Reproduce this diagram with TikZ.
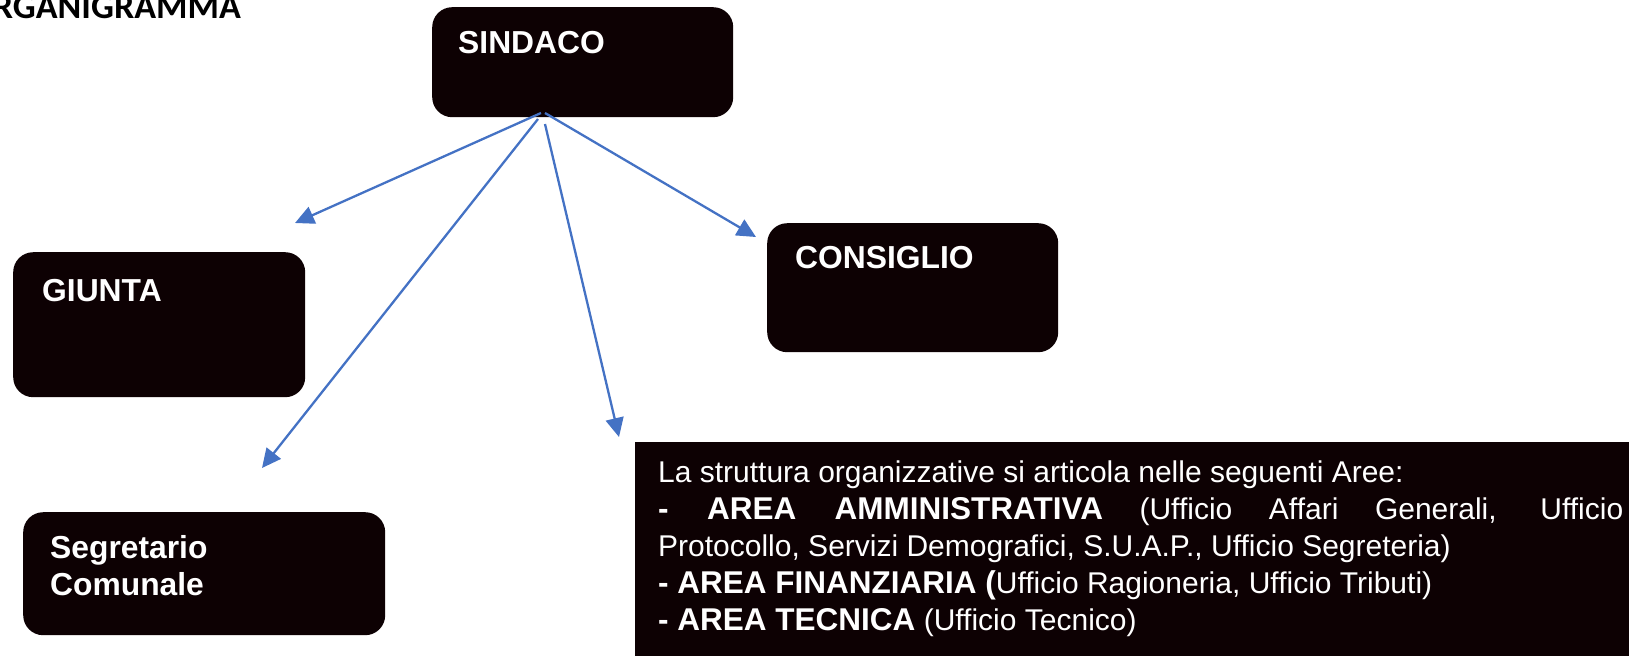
\documentclass[tikz,border=0pt]{standalone}
\usepackage{fontspec}
\setmainfont{Liberation Sans}
\newfontfamily\titlefont{Carlito}
\usetikzlibrary{arrows.meta}
\definecolor{boxfill}{RGB}{13,1,3}
\definecolor{arrowblue}{RGB}{68,114,196}
\newcommand\boldpart[1]{{\fontsize{31.5}{37}\selectfont\bfseries #1}}
\tikzset{
  orgbox/.style={fill=boxfill, draw=none, rounded corners=20pt, inner sep=0pt, anchor=north west},
  boxlabel/.style={text=white, font=\bfseries\fontsize{31.8}{37}\selectfont, inner sep=0pt, anchor=base west},
  link/.style={draw=arrowblue, line width=2.3pt, -{Triangle[length=19pt,width=18pt]}}
}
\begin{document}
\begin{tikzpicture}[x=1pt,y=-1pt]
\useasboundingbox (0,0) rectangle (1629,656);
% title
\node[inner sep=0pt, anchor=base east, font=\titlefont\bfseries\fontsize{36}{40}\selectfont] (title) at (241,18) {ORGANIGRAMMA};
% boxes
\node[orgbox, minimum width=301pt, minimum height=110pt] (sindaco) at (432,7) {};
\node[orgbox, minimum width=292pt, minimum height=145pt] (giunta) at (13,252) {};
\node[orgbox, minimum width=291pt, minimum height=129pt] (consiglio) at (767,223) {};
\node[orgbox, minimum width=362pt, minimum height=123pt] (segretario) at (23,512) {};
\node[fill=boxfill, inner sep=0pt, anchor=north west, minimum width=994pt, minimum height=214pt] (aree) at (635,442) {};
% labels
\node[boxlabel] (sindacotext) at (458,53) {SINDACO};
\node[boxlabel] (giuntatext) at (42,301) {GIUNTA};
\node[boxlabel] (consigliotext) at (795,268) {CONSIGLIO};
\node[boxlabel] (segtext1) at (50,558) {Segretario};
\node[boxlabel] (segtext2) at (50,595) {Comunale};
\node[text=white, text width=965pt, align=justify, inner sep=0pt, anchor=north west,
      font=\fontsize{30}{37}\selectfont] (areetext) at (658,461)
  {\parindent=0pt La struttura organizzative si articola nelle seguenti Aree:\\
   \boldpart{- AREA AMMINISTRATIVA} (Ufficio Affari Generali, Ufficio\linebreak
   Protocollo, Servizi Demografici, S.U.A.P., Ufficio Segreteria)\\
   \boldpart{- AREA FINANZIARIA (}Ufficio Ragioneria, Ufficio Tributi)\\
   \boldpart{- AREA TECNICA} (Ufficio Tecnico)};
% connector coordinates
\coordinate (s1) at (541,113);
\coordinate (s2) at (545,113);
\coordinate (s3) at (538,119);
\coordinate (s4) at (545,124);
\coordinate (t1) at (295,223);
\coordinate (t2) at (756,237);
\coordinate (t3) at (262,468);
\coordinate (t4) at (619,437);
\draw[link] (s1) -- (t1);
\draw[link] (s2) -- (t2);
\draw[link] (s3) -- (t3);
\draw[link] (s4) -- (t4);
\end{tikzpicture}
\end{document}
